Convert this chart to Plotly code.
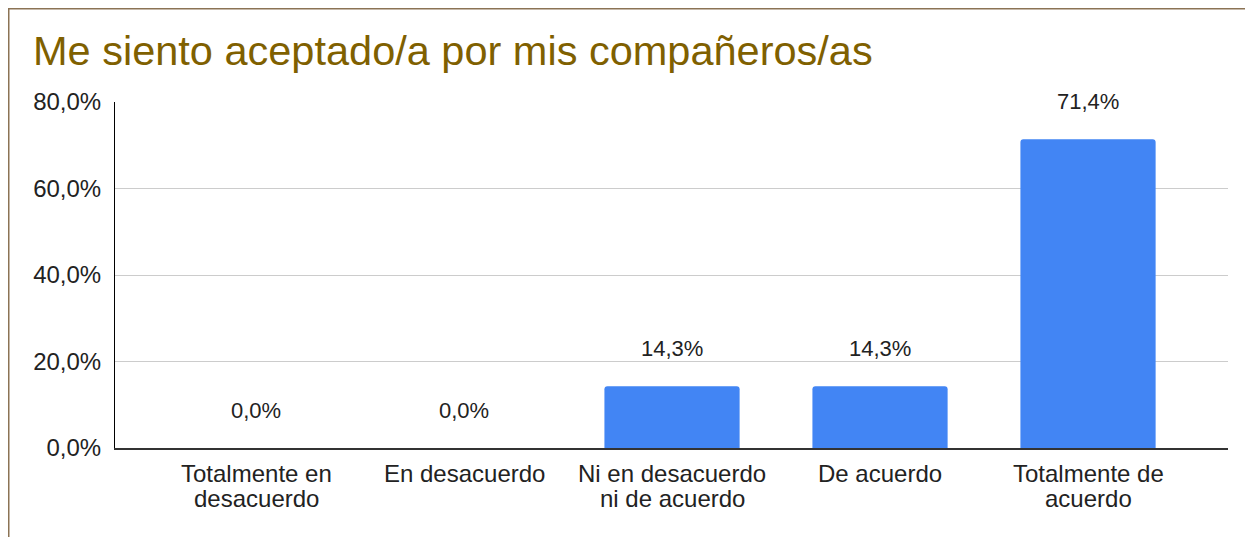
import plotly.graph_objects as go

categories = ["Totalmente en<br>desacuerdo", "En desacuerdo", "Ni en desacuerdo<br>ni de acuerdo",
              "De acuerdo", "Totalmente de<br>acuerdo"]
values = [0.0, 0.0, 14.3, 14.3, 71.4]
tick_vals = [0, 20, 40, 60, 80]
tick_text = ["0,0%", "20,0%", "40,0%", "60,0%", "80,0%"]
title_text = "Me siento aceptado/a por mis compañeros/as"

# page has an 8px body margin; figure sized to fit the 1253x537 window
OFF = 8
W, H = 1253 - OFF, 537 - OFF
L, R, T, B = 115 - OFF, 25, 102 - OFF, 89
pw, ph = W - L - R, H - T - B

FONT = "Arial, Liberation Sans, sans-serif"
TXT = "#222222"

fig = go.Figure()
fig.add_trace(go.Bar(
    x=categories, y=values,
    marker=dict(color="#4285f4", line=dict(width=0), cornerradius=3),
    width=0.65, hoverinfo="skip", showlegend=False,
))

# value labels
for c, v in zip(categories, values):
    fig.add_annotation(
        x=c, y=v, xref="x", yref="y",
        text=f"{v:.1f}".replace(".", ",") + "%",
        showarrow=False, yanchor="middle", yshift=38,
        font=dict(family=FONT, size=22, color=TXT),
    )

# category labels (tight line spacing)
for c in categories:
    for i, line in enumerate(c.split("<br>")):
        fig.add_annotation(
            x=c, y=0, xref="x", yref="paper",
            text=line, showarrow=False, yanchor="middle",
            yshift=-(25 + 25 * i),
            font=dict(family=FONT, size=24, color=TXT),
        )

# frame border (left and top)
fig.add_shape(type="line", xref="paper", yref="paper",
              x0=-L / pw, x1=-L / pw, y0=-B / ph, y1=(ph + T) / ph,
              line=dict(color="#8b7355", width=3))
fig.add_shape(type="line", xref="paper", yref="paper",
              x0=-L / pw, x1=(pw + R) / pw, y0=(ph + T) / ph, y1=(ph + T) / ph,
              line=dict(color="#8b7355", width=3))

fig.update_layout(
    width=W, height=H,
    margin=dict(l=L, r=R, t=T, b=B, pad=0),
    paper_bgcolor="white", plot_bgcolor="white",
    title=dict(text=title_text, x=(33 - OFF) / W, xanchor="left", xref="container",
               y=1 - (50 - OFF) / H, yanchor="middle", yref="container",
               font=dict(family=FONT, size=41.5, color="#7f6000")),
    font=dict(family=FONT, size=22, color=TXT),
    xaxis=dict(showgrid=False, showline=True, linecolor="#333333", linewidth=2,
               ticks="", showticklabels=False, fixedrange=True,
               range=[-0.678, 4.673]),
    yaxis=dict(range=[0, 80], tickvals=tick_vals, ticktext=tick_text,
               showgrid=True, gridcolor="#cccccc", gridwidth=1,
               showline=True, linecolor="#000000", linewidth=1,
               zeroline=False, ticks="", ticklabelstandoff=8,
               tickfont=dict(size=24, color=TXT)),
)

fig.write_html("out.html")
